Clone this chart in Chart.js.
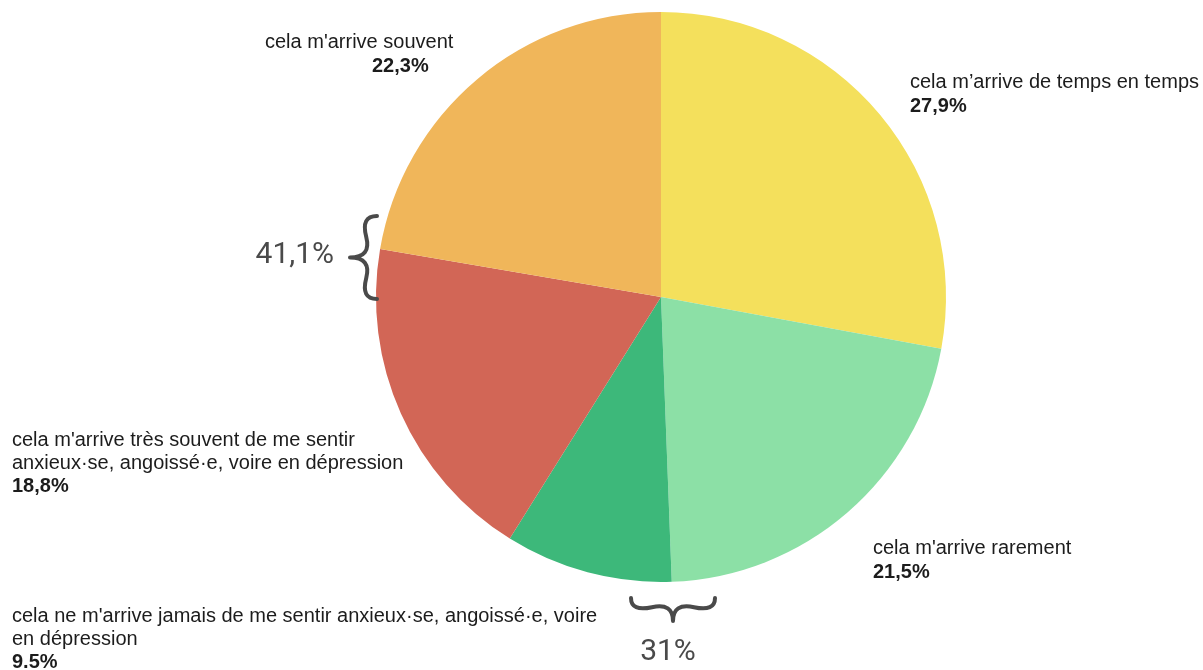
<!DOCTYPE html>
<html lang="fr">
<head>
<meta charset="utf-8">
<title>Anxiété</title>
<script src="https://cdn.jsdelivr.net/npm/chart.js@4/dist/chart.umd.min.js"></script>
<style>
  html, body { margin: 0; padding: 0; background: #fff; }
  #wrap { width: 1203px; height: 670px; }
</style>
</head>
<body>
<div id="wrap"><canvas id="myPieChart" width="1203" height="670"></canvas></div>
<script>
// réponses, dans l'ordre des parts (sens horaire depuis midi)
var categories = [
  "cela m\u2019arrive de temps en temps",
  "cela m'arrive rarement",
  "cela ne m'arrive jamais de me sentir anxieux\u00b7se, angoiss\u00e9\u00b7e, voire en d\u00e9pression",
  "cela m'arrive tr\u00e8s souvent de me sentir anxieux\u00b7se, angoiss\u00e9\u00b7e, voire en d\u00e9pression",
  "cela m'arrive souvent"
];
var values = [27.9, 21.5, 9.5, 18.8, 22.3];
var decimalSep = [",", ",", ".", ",", ","];
var colors = ["#F4E05C", "#8CE0A6", "#3DB87A", "#D26656", "#F0B65A"];

// lignes de texte de chaque étiquette (le pourcentage est ajouté en gras)
var labelLines = [
  ["cela m\u2019arrive de temps en temps"],
  ["cela m'arrive rarement"],
  ["cela ne m'arrive jamais de me sentir anxieux\u00b7se, angoiss\u00e9\u00b7e, voire", "en d\u00e9pression"],
  ["cela m'arrive tr\u00e8s souvent de me sentir", "anxieux\u00b7se, angoiss\u00e9\u00b7e, voire en d\u00e9pression"],
  ["cela m'arrive souvent"]
];
var labelPos = [
  { x: 910, y: 88, vx: 910, lh: 24 },
  { x: 873, y: 554, vx: 873, lh: 24 },
  { x: 12, y: 622, vx: 12, lh: 23 },
  { x: 12, y: 446, vx: 12, lh: 23 },
  { x: 265, y: 48, vx: 372, lh: 24 }
];

function fmt(v, sep) {
  return v.toFixed(1).replace(".", sep) + "%";
}

// accolade entre deux points, bombée de w
function bracePath(x1, y1, x2, y2, w, q) {
  var dx = x1 - x2, dy = y1 - y2;
  var len = Math.sqrt(dx * dx + dy * dy);
  dx = dx / len; dy = dy / len;
  var qx1 = x1 + q * w * dy, qy1 = y1 - q * w * dx;
  var qx2 = (x1 - .25 * len * dx) + (1 - q) * w * dy, qy2 = (y1 - .25 * len * dy) - (1 - q) * w * dx;
  var tx1 = (x1 - .5 * len * dx) + w * dy, ty1 = (y1 - .5 * len * dy) - w * dx;
  var qx3 = x2 + q * w * dy, qy3 = y2 - q * w * dx;
  var qx4 = (x1 - .75 * len * dx) + (1 - q) * w * dy, qy4 = (y1 - .75 * len * dy) - (1 - q) * w * dx;
  return "M " + x1 + " " + y1 + " Q " + qx1 + " " + qy1 + " " + qx2 + " " + qy2 + " T " + tx1 + " " + ty1 +
         " M " + x2 + " " + y2 + " Q " + qx3 + " " + qy3 + " " + qx4 + " " + qy4 + " T " + tx1 + " " + ty1;
}

var labelsPlugin = {
  id: "sliceLabels",
  afterDraw: function(chart) {
    var ctx = chart.ctx;
    var data = chart.data.datasets[0].data;
    ctx.save();
    ctx.textBaseline = "alphabetic";
    ctx.textAlign = "left";
    data.forEach(function(v, i) {
      var p = labelPos[i];
      ctx.fillStyle = "#1c1c1c";
      ctx.font = "20px 'Liberation Sans', Arial, sans-serif";
      labelLines[i].forEach(function(line, k) {
        ctx.fillText(line, p.x, p.y + k * p.lh);
      });
      ctx.font = "bold 20px 'Liberation Sans', Arial, sans-serif";
      ctx.fillText(fmt(v, decimalSep[i]), p.vx, p.y + labelLines[i].length * p.lh);
    });

    // regroupements : souvent + très souvent, jamais + rarement
    var upper = data[3] + data[4];
    var lower = data[1] + data[2];
    ctx.fillStyle = "#4a4a4a";
    ctx.font = "400 30px Roboto, sans-serif";
    ctx.textAlign = "right";
    ctx.fillText(fmt(upper, ","), 334, 263);
    ctx.textAlign = "center";
    ctx.fillText(Math.round(lower) + "%", 668, 660);

    ctx.strokeStyle = "#4a4a4a";
    ctx.lineWidth = 4;
    ctx.lineCap = "round";
    ctx.stroke(new Path2D(bracePath(377, 216, 377, 299, 27, 0.6)));
    ctx.stroke(new Path2D(bracePath(631, 598, 715, 598, 23, 0.6)));
    ctx.restore();
  }
};

var ctx = document.getElementById("myPieChart");
var myPieChart = new Chart(ctx, {
  type: "pie",
  data: {
    labels: categories,
    datasets: [{
      data: values,
      backgroundColor: colors,
      borderWidth: 0,
      hoverOffset: 0
    }]
  },
  options: {
    responsive: false,
    animation: false,
    events: [],
    layout: { padding: { left: 376, right: 257, top: 12, bottom: 88 } },
    plugins: {
      legend: { display: false },
      tooltip: { enabled: false }
    }
  },
  plugins: [labelsPlugin]
});
</script>
</body>
</html>
